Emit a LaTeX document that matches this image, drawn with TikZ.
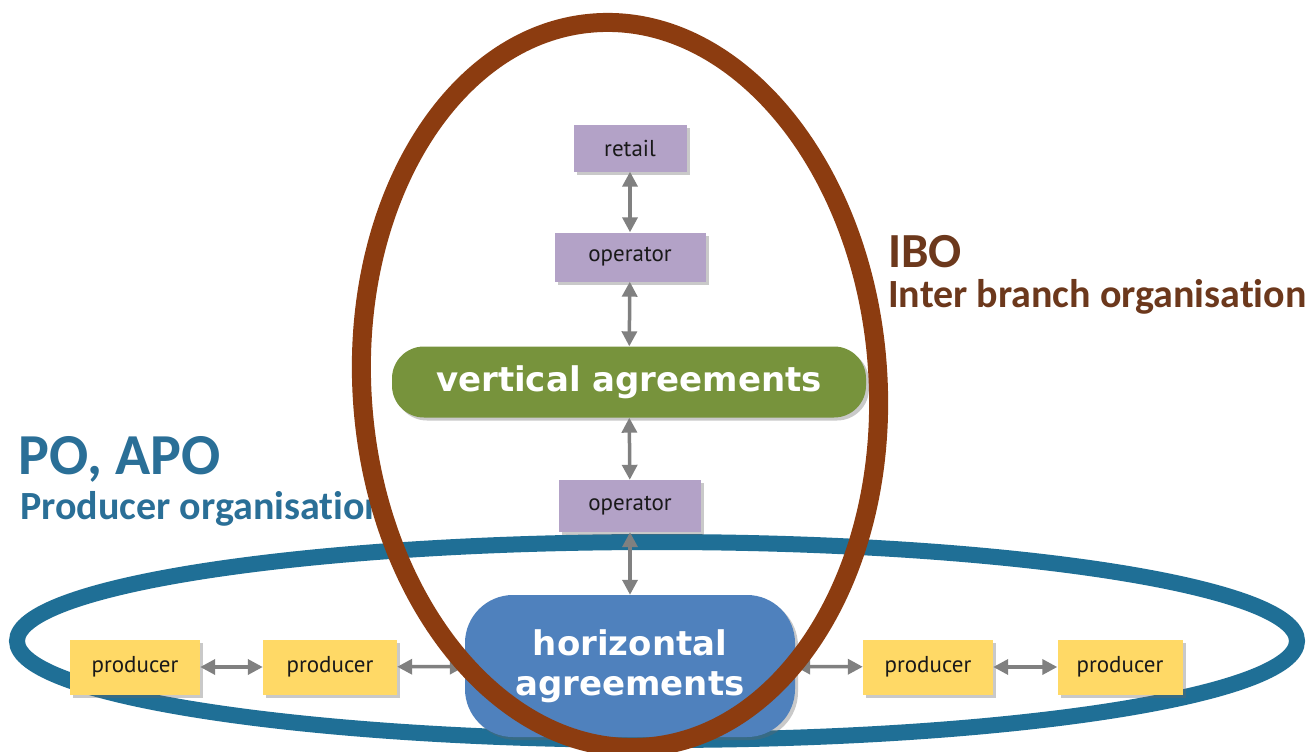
\documentclass[tikz,border=0pt]{standalone}
\usepackage{fontspec}
\setmainfont{Carlito}[Ligatures={NoCommon}]
\newfontfamily\boxfont{PT Sans}
\newfontfamily\bigfont{DejaVu Sans}
\usetikzlibrary{arrows.meta,shadows}
\definecolor{ringbrown}{RGB}{140,60,16}
\definecolor{ibotext}{RGB}{108,56,28}
\definecolor{ringblue}{RGB}{31,111,150}
\definecolor{potext}{RGB}{42,111,151}
\definecolor{vgreen}{RGB}{119,147,60}
\definecolor{hblue}{RGB}{79,129,189}
\definecolor{boxpurple}{RGB}{179,162,199}
\definecolor{boxyellow}{RGB}{255,217,102}
\definecolor{arrowgray}{RGB}{128,128,128}
\begin{document}
\begin{tikzpicture}[x=1pt,y=-1pt,
  shadowed/.style={drop shadow={shadow xshift=3pt,shadow yshift=-3pt,opacity=0.35,fill=black!60}},
  smallbox/.style={shadowed,draw=none,inner sep=0pt,font=\boxfont\fontsize{23}{26}\selectfont,text=black!90},
  purplebox/.style={smallbox,fill=boxpurple},
  producerbox/.style={smallbox,fill=boxyellow,minimum width=130pt,minimum height=55pt},
  bigbox/.style={shadowed,draw=none,text=white,font=\bigfont\bfseries\fontsize{34}{40}\selectfont,align=center},
  arr/.style={draw=arrowgray,line width=3.5pt,{Triangle[length=15pt,width=15pt]}-{Triangle[length=15pt,width=15pt]}},
  ring/.style={line width=#1},
  sublabel/.style={anchor=base west,font=\bfseries\fontsize{40}{46}\selectfont,inner sep=0pt}
]
\useasboundingbox (0,0) rectangle (1307,752);
\fill[white] (0,0) rectangle (1307,752);

% blue ring (PO)
\draw[ring=16pt,draw=ringblue] (657,641) ellipse [x radius=640pt,y radius=99pt];

% labels
\node[anchor=base west,inner sep=0pt,font=\bfseries\fontsize{49}{56}\selectfont,text=ibotext] (ibo) at (888,267) {IBO};
\node[sublabel,text=ibotext] (ibosub) at (888,307) {Inter branch organisation};
\node[anchor=base west,inner sep=0pt,font=\bfseries\fontsize{58}{64}\selectfont,text=potext] (po) at (18,474) {PO, APO};
\node[sublabel,text=potext] (posub) at (20,519) {Producer organisation};

% boxes
\node[purplebox,minimum width=113pt,minimum height=47pt] (retail) at (630,148) {retail};
\node[purplebox,minimum width=151pt,minimum height=49pt] (op1) at (630,257) {operator};
\node[bigbox,fill=vgreen,rounded corners=32pt,minimum width=474pt,minimum height=71pt] (vert) at (629,382) {vertical agreements};
\node[purplebox,minimum width=142pt,minimum height=52pt] (op2) at (630,506) {operator};
\node[bigbox,fill=hblue,rounded corners=48pt,minimum width=330pt,minimum height=142pt] (horiz) at (630,666) {horizontal\\agreements};
\node[producerbox] (p1) at (135,667) {producer};
\node[producerbox,minimum width=134pt] (p2) at (330,667) {producer};
\node[producerbox] (p3) at (928,667) {producer};
\node[producerbox,minimum width=125pt] (p4) at (1120,667) {producer};

% connectors
\draw[arr] (retail) -- (op1);
\draw[arr] (op1) -- (vert);
\draw[arr] (vert) -- (op2);
\draw[arr] (op2) -- (horiz);
\draw[arr] (p1) -- (p2);
\draw[arr] (p2) -- (horiz);
\draw[arr] (horiz) -- (p3);
\draw[arr] (p3) -- (p4);

% brown ring (IBO)
\draw[ring=19pt,draw=ringbrown,rotate around={4:(620,385)}] (620,385) ellipse [x radius=258pt,y radius=363pt];
\end{tikzpicture}
\end{document}
